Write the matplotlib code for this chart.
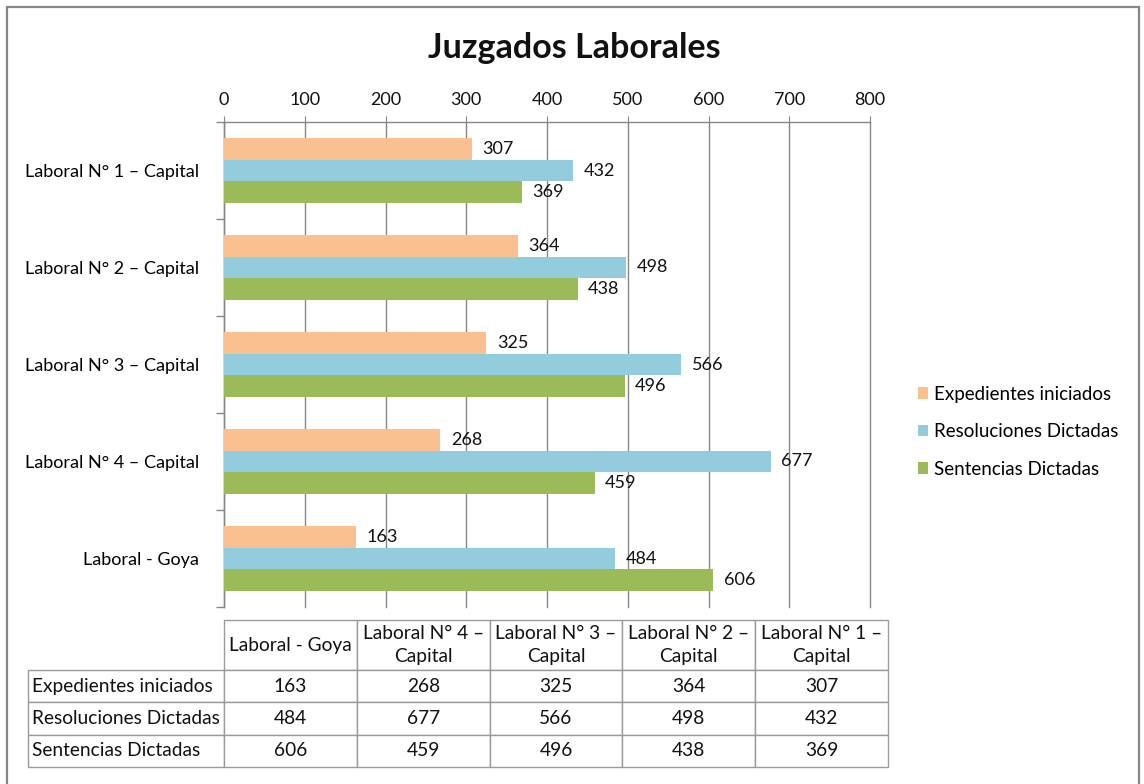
import numpy as np
import matplotlib
matplotlib.use('Agg')
import matplotlib.pyplot as plt
from matplotlib.patches import Patch, Rectangle
from matplotlib.table import Table

plt.rcParams['font.family'] = ['Lato', 'DejaVu Sans']

# data, in the order of the data table (Excel draws the first category at the bottom)
categories = ['Laboral - Goya', 'Laboral N° 4 – Capital', 'Laboral N° 3 – Capital',
              'Laboral N° 2 – Capital', 'Laboral N° 1 – Capital']
table_headers = ['Laboral - Goya', 'Laboral N° 4 –\nCapital', 'Laboral N° 3 –\nCapital',
                 'Laboral N° 2 –\nCapital', 'Laboral N° 1 –\nCapital']
series_names = ['Expedientes iniciados', 'Resoluciones Dictadas', 'Sentencias Dictadas']
expedientes = [163, 268, 325, 364, 307]
resoluciones = [484, 677, 566, 498, 432]
sentencias = [606, 459, 496, 438, 369]
series_values = [expedientes, resoluciones, sentencias]
colors = ['#FAC090', '#93CDDD', '#9BBB59']
x_ticks = [0, 100, 200, 300, 400, 500, 600, 700, 800]

W, H = 1144, 784
fig = plt.figure(figsize=(W / 100, H / 100), dpi=100)
grid_col = '#868686'
fs = 13

# outer chart border
fig.patches.append(Rectangle((7 / W, -0.02), (1139 - 7) / W, 1 - 7 / H + 0.02,
                             transform=fig.transFigure, fill=False,
                             edgecolor=grid_col, linewidth=1.6))

ax = fig.add_axes([224 / W, 1 - 607 / H, (870 - 224) / W, (607 - 122) / H])
y = np.arange(len(categories))
bh = 0.225
offsets = [bh, 0, -bh]
for vals, off, col, name in zip(series_values, offsets, colors, series_names):
    bars = ax.barh(y + off, vals, height=bh, color=col, label=name, zorder=3)
    for b, v in zip(bars, vals):
        ax.text(v + 13, b.get_y() + b.get_height() / 2, str(v), va='center', ha='left',
                fontsize=fs, color='#111111', zorder=4)

ax.set_xlim(0, 800)
ax.set_ylim(-0.5, len(categories) - 0.5)
ax.set_xticks(x_ticks)
ax.xaxis.tick_top()
ax.tick_params(axis='x', length=4, pad=6, labelsize=fs, labelcolor='#111111', color=grid_col)
ax.set_yticks(y)
ax.set_yticklabels(categories, fontsize=fs)
ax.tick_params(axis='y', length=0, pad=18)
ax.set_yticks(np.arange(len(categories) + 1) - 0.5, minor=True)
ax.tick_params(axis='y', which='minor', length=6, color=grid_col, width=1)
ax.grid(axis='x', color=grid_col, linewidth=1, zorder=0)
for gl in ax.get_xgridlines():
    gl.set_clip_on(False)
for s in ['bottom', 'right']:
    ax.spines[s].set_visible(False)
for s in ['top', 'left']:
    ax.spines[s].set_color(grid_col)
    ax.spines[s].set_linewidth(1)

fig.text(574 / W, 1 - 48 / H, 'Juzgados Laborales', ha='center', va='center',
         fontsize=24.5, fontweight='bold', color='#111111')

handles = [Patch(facecolor=c, edgecolor='none') for c in colors]
fig.legend(handles, series_names, loc='upper left', bbox_to_anchor=(910 / W, 1 - 378 / H),
           frameon=False, fontsize=13.5, handlelength=0.55, handleheight=0.55,
           handletextpad=0.35, labelspacing=1.1, borderaxespad=0)

# data table below the chart
tax = fig.add_axes([0, 0, 1, 1])
tax.axis('off')
tab = Table(tax, bbox=[224 / W, 1 - 767 / H, (888 - 224) / W, (767 - 620) / H])
row_w, col_w = 196 / W, 132.8 / W
head_h, row_h = 50 / H, 32.3 / H
edge = '#9a9a9a'
for j, hd in enumerate(table_headers):
    tab.add_cell(0, j, col_w, head_h, text=hd, loc='center', edgecolor=edge)
for i, (name, vals) in enumerate(zip(series_names, series_values), start=1):
    c = tab.add_cell(i, -1, row_w, row_h, text=name, loc='left', edgecolor=edge)
    c.PAD = 0.02
    for j, v in enumerate(vals):
        tab.add_cell(i, j, col_w, row_h, text=str(v), loc='center', edgecolor=edge)
tab.auto_set_font_size(False)
tab.set_fontsize(13.8)
for cell in tab.get_celld().values():
    cell.set_linewidth(1)
    cell.get_text().set_color('#111111')
    cell.get_text().set_linespacing(1.45)
tax.add_table(tab)

fig.savefig('out.png', dpi=100)
